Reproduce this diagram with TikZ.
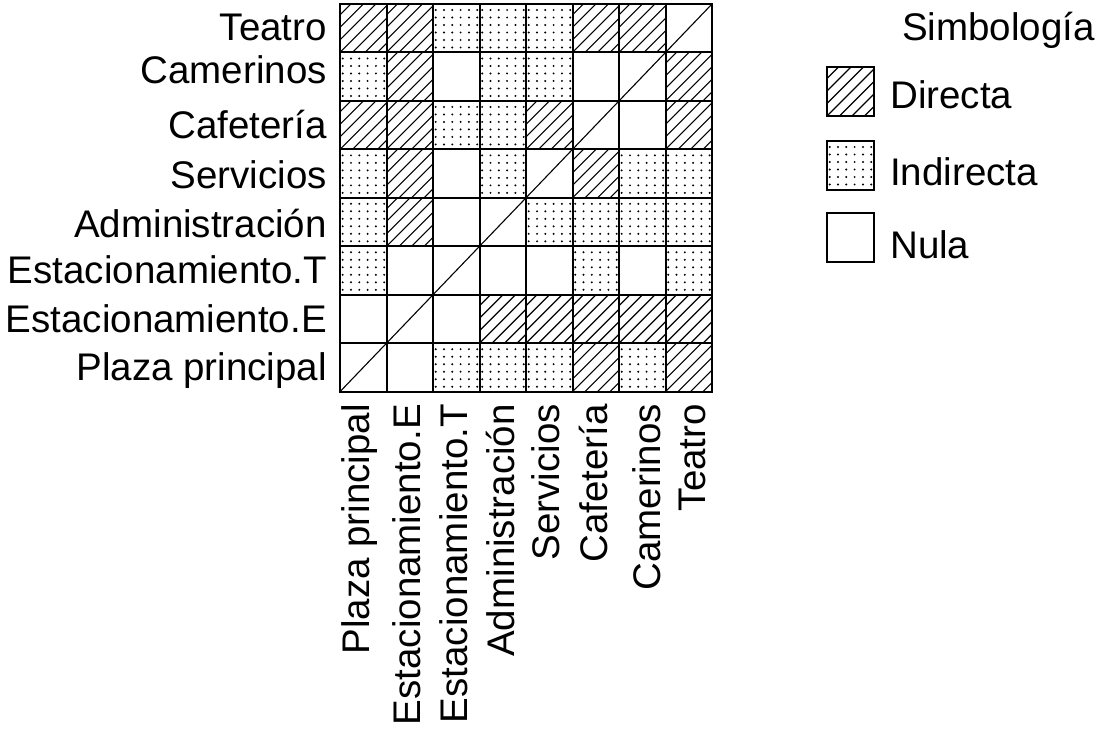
\documentclass[tikz,border=0pt]{standalone}
\usepackage{fontspec}
\setmainfont{Liberation Sans}
\newcommand\hatchcell[4]{%
  \begin{scope}
    \clip (#1,#2) rectangle (#3,#4);
    \foreach \k in {-50,-37.5,...,50} {\draw[hatchline] ({#1+\k},#4) -- ++(60,-60);}
  \end{scope}}
\newcommand\dotcell[2]{%
  \foreach \i in {0,...,5}{\foreach \j in {0,...,5}{\fill ({#1+2.7+8.3*\i},{#2+6+7.5*\j}) circle (1.1);}}}
\begin{document}
\begin{tikzpicture}[x=1pt,y=-1pt,
  lbl/.style={inner sep=0pt, font=\fontsize{38.5}{40}\selectfont},
  gridline/.style={line width=2pt},
  hatchline/.style={line width=1.1pt}]
\useasboundingbox (0,0) rectangle (1098,734);
\fill[white] (0,0) rectangle (1098,734);
% cells
\foreach \row [count=\r from 0] in {{D,D,I,I,I,D,D,N},{I,D,N,I,I,N,N,D},{D,D,I,I,D,N,N,D},{I,D,N,I,N,D,I,I},{I,D,N,N,I,I,I,I},{I,N,N,N,N,I,N,I},{N,N,N,D,D,D,D,D},{N,N,I,I,I,D,I,D}}{
  \foreach \t [count=\c from 0] in \row {
    \pgfmathsetmacro\xa{340+46.5*\c}
    \pgfmathsetmacro\ya{4+48.46*\r}
    \pgfmathsetmacro\xb{\xa+46.5}
    \pgfmathsetmacro\yb{\ya+48.46}
    \if\t D \hatchcell{\xa}{\ya}{\xb}{\yb}\fi
    \if\t I \dotcell{\xa}{\ya}\fi
  }
}
% grid
\foreach \c in {0,...,8} \draw[gridline] ({340+46.5*\c},4) -- ({340+46.5*\c},391.68);
\foreach \r in {0,...,8} \draw[gridline] (339,{4+48.46*\r}) -- (713,{4+48.46*\r});
\coordinate (gbl) at (340,391.68);
\coordinate (gtr) at (712,4);
\draw[hatchline] (gbl) -- (gtr);
% row labels
\foreach \name/\yy [count=\i] in {Teatro/40, Camerinos/83, Cafetería/138, Servicios/188, Administración/237, Estacionamiento.T/283, Estacionamiento.E/332, Plaza principal/380}
  \node[lbl, anchor=base east] (row\i) at (327,\yy) {\name};
% column labels
\foreach \name/\xx [count=\i] in {Plaza principal/369, Estacionamiento.E/420, Estacionamiento.T/467, Administración/514, Servicios/559, Cafetería/607, Camerinos/660, Teatro/705}
  \node[lbl, rotate=90, anchor=base east] (col\i) at (\xx,404) {\name};
% legend
\node[lbl, anchor=base west] (leg) at (902,40) {Simbología};
\hatchcell{827}{67}{874}{116}
\draw[gridline] (827,67) rectangle (874,116);
\node[lbl, anchor=base west] (legD) at (890,108) {Directa};
\dotcell{827}{141}
\draw[gridline] (827,141) rectangle (874,190);
\node[lbl, anchor=base west] (legI) at (890,185) {Indirecta};
\draw[gridline] (827,213) rectangle (874,262);
\node[lbl, anchor=base west] (legN) at (890,258) {Nula};
\end{tikzpicture}
\end{document}
